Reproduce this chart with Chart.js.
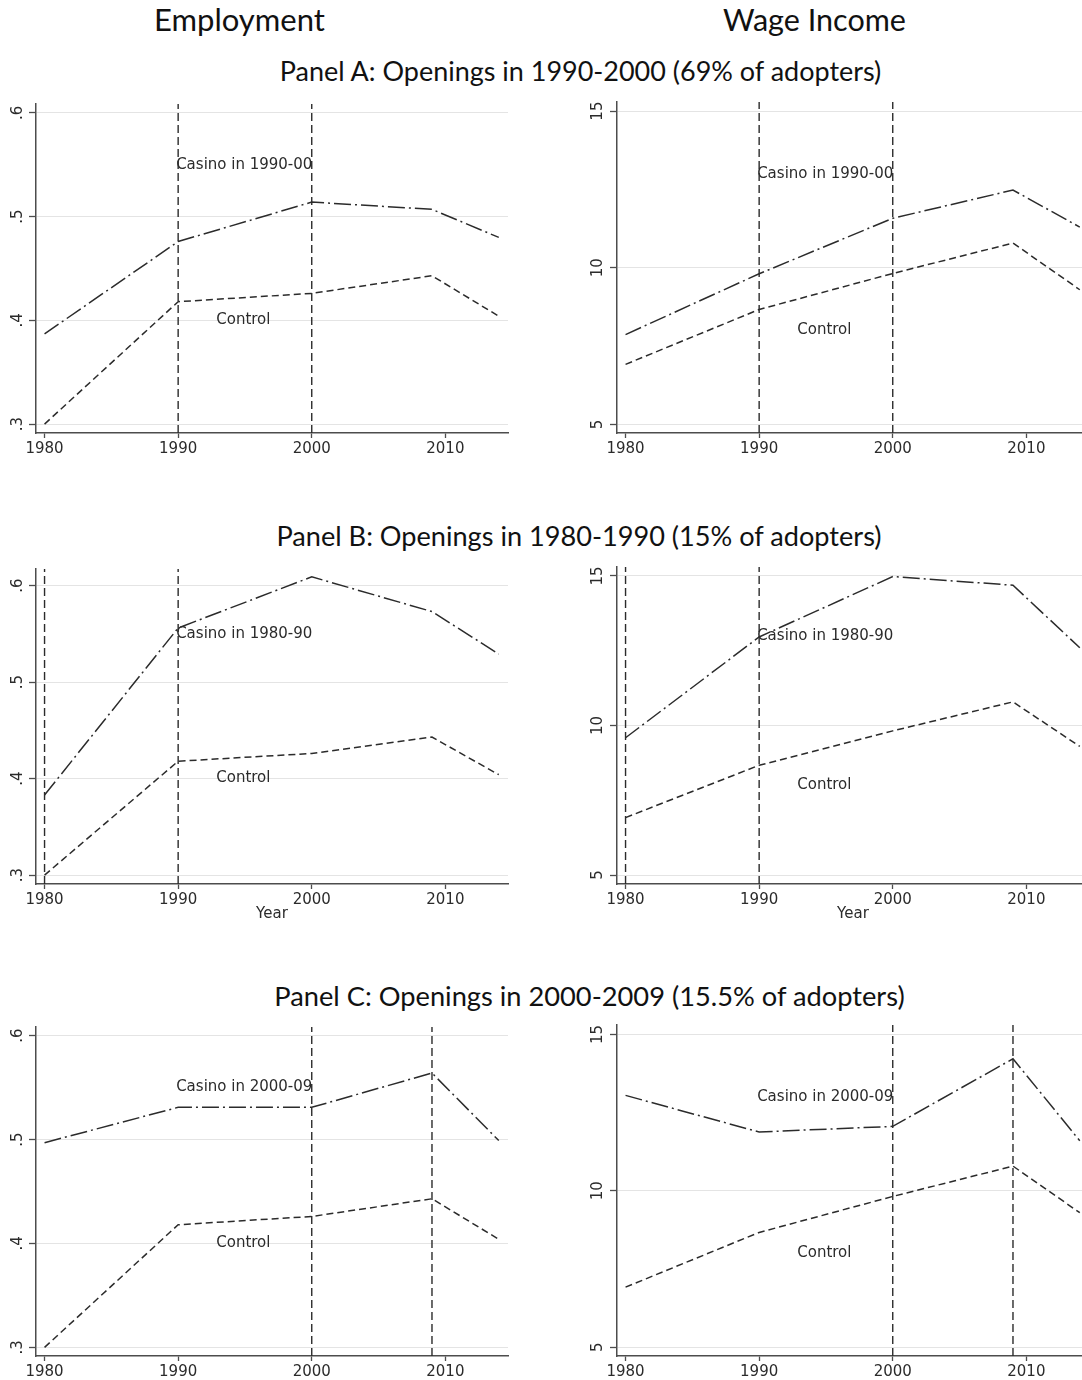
<!DOCTYPE html>
<html><head><meta charset="utf-8">
<script src="https://cdn.jsdelivr.net/npm/chart.js@4.4.1/dist/chart.umd.min.js"></script>
<style>
html,body{margin:0;padding:0;background:#fff;width:1082px;height:1380px;overflow:hidden;position:relative}
canvas{position:absolute}
.t{position:absolute;white-space:nowrap;font-family:Lato,'Open Sans',sans-serif;color:#111;transform:translate(-50%,-50%);line-height:1}
</style></head><body>
<script>
// ---------- data ----------
const years = [1980, 1990, 2000, 2009, 2014];
const xTicks = [1980, 1990, 2000, 2010];
const empTicks = [0.3, 0.4, 0.5, 0.6];
const empTickLabels = ['.3', '.4', '.5', '.6'];
const wageTicks = [5, 10, 15];
const wageTickLabels = ['5', '10', '15'];

const controlEmp  = [0.300, 0.418, 0.426, 0.443, 0.404];
const controlWage = [6.92, 8.67, 9.82, 10.79, 9.30];

const casinoEmpA  = [0.387, 0.476, 0.514, 0.507, 0.480];
const casinoWageA = [7.87, 9.81, 11.58, 12.48, 11.30];
const casinoEmpB  = [0.383, 0.556, 0.609, 0.573, 0.529];
const casinoWageB = [9.59, 12.96, 14.98, 14.69, 12.60];
const casinoEmpC  = [0.497, 0.531, 0.531, 0.564, 0.499];
const casinoWageC = [13.05, 11.88, 12.06, 14.22, 11.60];

const openingYearsA = [1990, 2000];
const openingYearsB = [1980, 1990];
const openingYearsC = [2000, 2009];

const columnTitles = ['Employment', 'Wage Income'];
const panelTitles = [
  'Panel A: Openings in 1990-2000 (69% of adopters)',
  'Panel B: Openings in 1980-1990 (15% of adopters)',
  'Panel C: Openings in 2000-2009 (15.5% of adopters)'
];
const casinoLabels = ['Casino in 1990-00', 'Casino in 1980-90', 'Casino in 2000-09'];
const controlLabel = 'Control';
const xTitle = 'Year';
const casinoLabelAt = { emp: [1990, 0.55], wage: [1990, 13] };
const controlLabelAt = { emp: [1993, 0.40], wage: [1993, 8] };

// ---------- layout / style ----------
const X_MIN = 1979.36, X_MAX = 2014.69;
const INK = '#2b2b2b', AXIS = '#4d4d4d', GRID = '#e4e4e4';
const TICK_FONT = { family: 'DejaVu Sans', size: 15 };
const LABEL_FONT = '15px "DejaVu Sans"';

const labelPlugin = {
  id: 'txtLabels',
  afterDatasetsDraw(chart, args, opts) {
    const { ctx } = chart; const x = chart.scales.x, y = chart.scales.y;
    ctx.save();
    ctx.font = LABEL_FONT; ctx.fillStyle = INK; ctx.textAlign = 'left'; ctx.textBaseline = 'middle';
    (opts.items || []).forEach(it => ctx.fillText(it.text, x.getPixelForValue(it.x) - 2, y.getPixelForValue(it.y)));
    ctx.restore();
  }
};

function series(vals) { return years.map((yr, i) => ({ x: yr, y: vals[i] })); }

function makeChart(p) {
  const cv = document.createElement('canvas');
  const W = 36 + 472 + 12, H = 10 + p.plotH + 40;
  cv.width = W; cv.height = H;
  cv.style.left = p.left + 'px'; cv.style.top = (p.top - 10) + 'px';
  document.body.appendChild(cv);
  const ds = [];
  p.openings.forEach(yr => ds.push({
    data: [{ x: yr, y: p.yMin }, { x: yr, y: p.yMax }],
    borderColor: INK, borderWidth: 1.4, borderDash: [8, 4], pointRadius: 0
  }));
  ds.push({ data: series(p.casino), borderColor: INK, borderWidth: 1.5, borderDash: [17, 4, 2, 4], pointRadius: 0 });
  ds.push({ data: series(p.control), borderColor: INK, borderWidth: 1.5, borderDash: [7, 4], pointRadius: 0 });
  new Chart(cv, {
    type: 'line',
    data: { datasets: ds },
    plugins: [labelPlugin],
    options: {
      responsive: false, animation: false, devicePixelRatio: 1,
      layout: { padding: { top: 10, right: 12, left: 0, bottom: 0 } },
      plugins: {
        legend: { display: false }, tooltip: { enabled: false },
        txtLabels: { items: [
          { text: p.casinoLabel, x: p.casinoAt[0], y: p.casinoAt[1] },
          { text: controlLabel, x: p.controlAt[0], y: p.controlAt[1] }
        ] }
      },
      scales: {
        x: {
          type: 'linear', min: X_MIN, max: X_MAX,
          afterBuildTicks: s => { s.ticks = xTicks.map(v => ({ value: v })); },
          afterFit: s => { s.height = 40; },
          ticks: { callback: v => String(v), font: TICK_FONT, color: INK, padding: 2, minRotation: 0, maxRotation: 0, autoSkip: false },
          grid: { drawOnChartArea: false, drawTicks: true, tickLength: 5, tickColor: AXIS, tickWidth: 1.3 },
          border: { display: true, color: AXIS, width: 1.5 },
          title: { display: !!p.showYear, text: xTitle, font: TICK_FONT, color: INK, padding: { top: 0, bottom: 1 } }
        },
        y: {
          type: 'linear', min: p.yMin, max: p.yMax,
          afterBuildTicks: s => { s.ticks = p.yTicks.map(v => ({ value: v })); },
          afterFit: s => { s.width = 36; },
          ticks: {
            callback: v => { const i = p.yTicks.findIndex(t => Math.abs(t - v) < 1e-9); return i >= 0 ? p.yLabels[i] : ''; },
            font: TICK_FONT, color: INK, minRotation: 90, maxRotation: 90, crossAlign: 'center', padding: p.yPad, autoSkip: false
          },
          grid: { color: GRID, lineWidth: 1, drawTicks: true, tickLength: 7, tickColor: AXIS, tickWidth: 1.3 },
          border: { display: true, color: AXIS, width: 1.5 }
        }
      }
    }
  });
}

const rows = [
  { top: 101, plotH: 332, ce: casinoEmpA, cw: casinoWageA, op: openingYearsA, e: [0.2914, 0.6086], w: [4.73, 15.29], year: false },
  { top: 566, plotH: 318, ce: casinoEmpB, cw: casinoWageB, op: openingYearsB, e: [0.2908, 0.6171], w: [4.70, 15.30], year: true },
  { top: 1024, plotH: 332, ce: casinoEmpC, cw: casinoWageC, op: openingYearsC, e: [0.2917, 0.6083], w: [4.72, 15.30], year: false }
];
rows.forEach((r, i) => {
  makeChart({ left: 0, top: r.top, plotH: r.plotH, casino: r.ce, control: controlEmp, openings: r.op,
    yMin: r.e[0], yMax: r.e[1], yTicks: empTicks, yLabels: empTickLabels, yPad: 4,
    casinoLabel: casinoLabels[i], casinoAt: casinoLabelAt.emp, controlAt: controlLabelAt.emp, showYear: r.year });
  makeChart({ left: 581, top: r.top, plotH: r.plotH, casino: r.cw, control: controlWage, openings: r.op,
    yMin: r.w[0], yMax: r.w[1], yTicks: wageTicks, yLabels: wageTickLabels, yPad: 2,
    casinoLabel: casinoLabels[i], casinoAt: casinoLabelAt.wage, controlAt: controlLabelAt.wage, showYear: r.year });
});

// ---------- titles ----------
const mctx = document.createElement('canvas').getContext('2d');
function addText(text, cx, cy, targetW) {
  const d = document.createElement('div'); d.className = 't'; d.textContent = text;
  mctx.font = '100px Lato';
  const w = mctx.measureText(text).width;
  d.style.fontSize = (100 * targetW / w).toFixed(2) + 'px';
  d.style.left = cx + 'px'; d.style.top = cy + 'px';
  document.body.appendChild(d);
}
addText(columnTitles[0], 239.5, 20, 171);
addText(columnTitles[1], 814.5, 20, 183);
addText(panelTitles[0], 580.5, 71, 603);
addText(panelTitles[1], 579, 536, 606);
addText(panelTitles[2], 589.5, 996, 631);
</script>
</body></html>
